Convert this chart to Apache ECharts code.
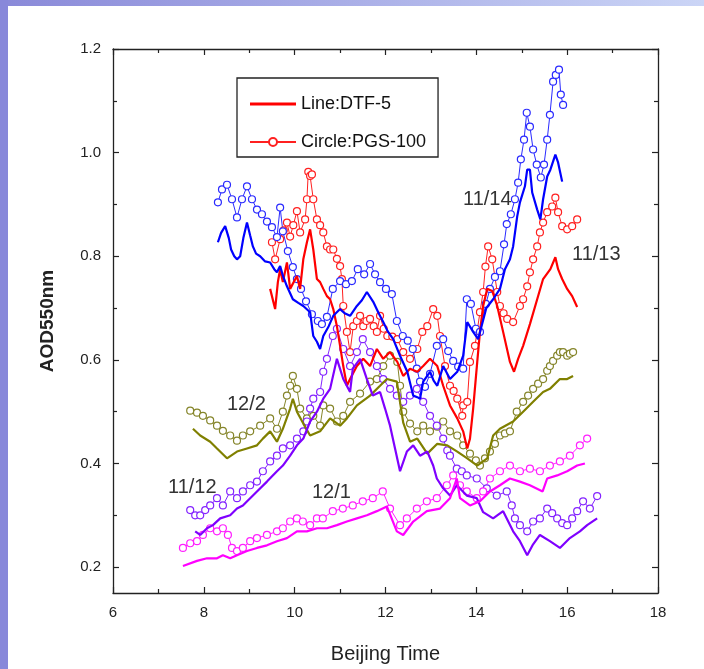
<!DOCTYPE html>
<html>
<head>
<meta charset="utf-8">
<script src="https://cdn.jsdelivr.net/npm/echarts@6/dist/echarts.min.js"></script>
<style>
  html, body { margin: 0; padding: 0; background: #fff; }
  #main { width: 704px; height: 669px; }
</style>
</head>
<body>
<div id="main"></div>
<script>
// 坐标轴刻度.
const yLabelValues = [0.2, 0.4, 0.6, 0.8, 1.0, 1.2]
const yMinorValues = [0.3, 0.5, 0.7, 0.9, 1.1]

// 11/14 (blue)
const pgs1114 = [[8.31,0.904],[8.40,0.929],[8.51,0.938],[8.62,0.910],[8.73,0.875],[8.84,0.910],[8.95,0.935],[9.06,0.910],[9.17,0.890],[9.28,0.881],[9.39,0.867],[9.50,0.856],[9.61,0.837],[9.68,0.894],[9.74,0.848],[9.85,0.810],[9.96,0.779],[10.05,0.756],[10.14,0.737],[10.25,0.713],[10.38,0.688],[10.51,0.675],[10.60,0.669],[10.71,0.683],[10.84,0.737],[11.00,0.752],[11.13,0.746],[11.26,0.752],[11.39,0.775],[11.53,0.765],[11.66,0.785],[11.77,0.765],[11.88,0.750],[12.01,0.737],[12.14,0.727],[12.25,0.675],[12.38,0.646],[12.49,0.637],[12.60,0.621],[12.69,0.583],[12.76,0.558],[12.87,0.548],[12.98,0.573],[13.13,0.627],[13.27,0.640],[13.38,0.617],[13.49,0.598],[13.60,0.587],[13.71,0.583],[13.79,0.717],[13.88,0.708],[13.99,0.660],[14.08,0.654],[14.21,0.708],[14.30,0.737],[14.41,0.760],[14.52,0.771],[14.61,0.823],[14.67,0.862],[14.76,0.881],[14.85,0.910],[14.92,0.942],[14.98,0.987],[15.05,1.025],[15.11,1.077],[15.18,1.050],[15.25,1.006],[15.33,0.977],[15.42,0.952],[15.49,0.977],[15.56,1.025],[15.62,1.073],[15.69,1.137],[15.75,1.150],[15.82,1.160],[15.86,1.112],[15.91,1.092]]
const dtf1114 = [[8.31,0.827],[8.38,0.845],[8.47,0.858],[8.55,0.835],[8.60,0.813],[8.67,0.800],[8.73,0.794],[8.80,0.800],[8.87,0.835],[8.95,0.865],[9.02,0.840],[9.08,0.819],[9.15,0.805],[9.24,0.800],[9.35,0.790],[9.46,0.788],[9.55,0.775],[9.61,0.769],[9.68,0.781],[9.75,0.760],[9.83,0.742],[9.96,0.717],[10.08,0.710],[10.19,0.704],[10.34,0.692],[10.41,0.646],[10.49,0.635],[10.56,0.621],[10.63,0.646],[10.75,0.665],[10.85,0.685],[11.00,0.698],[11.10,0.690],[11.22,0.685],[11.37,0.704],[11.48,0.715],[11.59,0.731],[11.73,0.712],[11.85,0.690],[11.95,0.673],[12.05,0.655],[12.17,0.640],[12.32,0.608],[12.48,0.577],[12.61,0.531],[12.70,0.528],[12.76,0.525],[12.83,0.558],[12.98,0.577],[13.06,0.560],[13.14,0.550],[13.27,0.588],[13.42,0.563],[13.58,0.577],[13.71,0.608],[13.80,0.673],[13.93,0.654],[14.04,0.640],[14.08,0.640],[14.22,0.700],[14.37,0.717],[14.52,0.737],[14.63,0.775],[14.74,0.794],[14.81,0.819],[14.90,0.877],[14.96,0.904],[15.07,0.935],[15.12,0.967],[15.18,0.967],[15.23,0.923],[15.34,0.890],[15.41,0.871],[15.47,0.910],[15.56,0.954],[15.63,0.967],[15.74,0.996],[15.80,0.981],[15.89,0.944]]

// 11/13 (red)
const pgs1113 = [[9.50,0.827],[9.57,0.794],[9.68,0.833],[9.76,0.850],[9.83,0.865],[9.90,0.838],[9.97,0.860],[10.05,0.887],[10.12,0.846],[10.23,0.871],[10.27,0.910],[10.30,0.963],[10.34,0.955],[10.38,0.958],[10.41,0.910],[10.49,0.871],[10.56,0.860],[10.63,0.846],[10.71,0.819],[10.78,0.813],[10.85,0.813],[10.93,0.795],[11.00,0.781],[11.04,0.756],[11.07,0.704],[11.15,0.654],[11.22,0.615],[11.29,0.665],[11.37,0.675],[11.44,0.685],[11.51,0.665],[11.58,0.675],[11.66,0.679],[11.74,0.665],[11.81,0.654],[11.88,0.685],[11.96,0.660],[12.04,0.646],[12.15,0.645],[12.26,0.640],[12.39,0.615],[12.54,0.602],[12.70,0.621],[12.81,0.654],[12.92,0.665],[13.05,0.698],[13.14,0.685],[13.20,0.646],[13.31,0.588],[13.42,0.550],[13.50,0.540],[13.58,0.525],[13.69,0.492],[13.71,0.512],[13.80,0.519],[13.86,0.596],[13.97,0.627],[14.08,0.692],[14.15,0.731],[14.20,0.780],[14.26,0.819],[14.35,0.794],[14.46,0.731],[14.52,0.704],[14.60,0.690],[14.68,0.679],[14.81,0.673],[14.96,0.704],[15.03,0.717],[15.12,0.742],[15.18,0.769],[15.25,0.794],[15.34,0.819],[15.40,0.846],[15.47,0.865],[15.56,0.885],[15.67,0.896],[15.74,0.913],[15.80,0.885],[15.89,0.858],[16.00,0.852],[16.11,0.858],[16.22,0.871]]
const dtf1113 = [[9.46,0.737],[9.57,0.698],[9.63,0.750],[9.68,0.775],[9.74,0.750],[9.83,0.788],[9.90,0.737],[10.05,0.762],[10.12,0.737],[10.19,0.794],[10.27,0.827],[10.34,0.852],[10.41,0.813],[10.49,0.756],[10.56,0.750],[10.63,0.737],[10.71,0.723],[10.78,0.717],[10.85,0.698],[10.93,0.665],[11.00,0.627],[11.07,0.588],[11.15,0.550],[11.22,0.563],[11.37,0.588],[11.51,0.602],[11.66,0.588],[11.81,0.621],[11.95,0.602],[12.10,0.615],[12.26,0.596],[12.39,0.569],[12.54,0.583],[12.70,0.577],[12.83,0.588],[12.98,0.602],[13.14,0.588],[13.27,0.550],[13.42,0.512],[13.58,0.487],[13.71,0.462],[13.80,0.429],[13.86,0.448],[13.93,0.506],[14.02,0.596],[14.08,0.654],[14.15,0.704],[14.24,0.737],[14.35,0.733],[14.46,0.704],[14.59,0.654],[14.74,0.596],[14.83,0.577],[14.92,0.602],[15.03,0.627],[15.18,0.669],[15.34,0.717],[15.47,0.756],[15.63,0.775],[15.74,0.798],[15.80,0.775],[15.89,0.756],[16.00,0.737],[16.11,0.723],[16.22,0.702]]

// 12/2 (olive)
const pgs1202 = [[7.70,0.502],[7.85,0.498],[7.98,0.492],[8.14,0.483],[8.29,0.473],[8.42,0.463],[8.58,0.454],[8.73,0.444],[8.86,0.454],[9.02,0.462],[9.24,0.473],[9.46,0.487],[9.61,0.467],[9.74,0.500],[9.83,0.531],[9.90,0.550],[9.96,0.569],[10.05,0.544],[10.12,0.506],[10.27,0.487],[10.41,0.492],[10.56,0.473],[10.63,0.512],[10.78,0.506],[10.93,0.481],[11.07,0.492],[11.22,0.519],[11.44,0.535],[11.66,0.558],[11.81,0.563],[11.95,0.588],[12.10,0.608],[12.26,0.596],[12.32,0.550],[12.39,0.500],[12.54,0.477],[12.70,0.462],[12.83,0.473],[12.98,0.462],[13.14,0.471],[13.27,0.481],[13.42,0.462],[13.58,0.454],[13.71,0.435],[13.86,0.419],[13.99,0.406],[14.08,0.396],[14.19,0.410],[14.30,0.423],[14.41,0.438],[14.52,0.454],[14.63,0.458],[14.74,0.462],[14.89,0.500],[15.03,0.519],[15.14,0.531],[15.25,0.544],[15.36,0.554],[15.47,0.563],[15.56,0.579],[15.62,0.588],[15.69,0.598],[15.78,0.608],[15.84,0.615],[15.91,0.615],[16.00,0.608],[16.06,0.612],[16.13,0.615]]
const dtf1202 = [[7.76,0.467],[7.92,0.454],[8.14,0.442],[8.29,0.429],[8.51,0.410],[8.73,0.423],[8.95,0.429],[9.17,0.435],[9.30,0.448],[9.46,0.462],[9.61,0.442],[9.74,0.467],[9.90,0.506],[9.96,0.525],[10.05,0.500],[10.19,0.477],[10.34,0.454],[10.56,0.462],[10.78,0.487],[11.00,0.473],[11.15,0.487],[11.37,0.512],[11.66,0.531],[11.88,0.550],[12.03,0.563],[12.25,0.558],[12.39,0.479],[12.54,0.442],[12.70,0.448],[12.92,0.419],[13.14,0.438],[13.36,0.435],[13.58,0.423],[13.80,0.410],[14.02,0.396],[14.24,0.410],[14.37,0.454],[14.52,0.467],[14.81,0.481],[15.03,0.500],[15.25,0.519],[15.47,0.538],[15.62,0.544],[15.84,0.563],[16.00,0.563],[16.13,0.569]]

// 11/12 (purple)
const pgs1112 = [[7.70,0.310],[7.81,0.300],[7.92,0.300],[8.03,0.310],[8.14,0.319],[8.29,0.333],[8.42,0.319],[8.58,0.346],[8.73,0.333],[8.86,0.346],[9.02,0.358],[9.17,0.365],[9.30,0.385],[9.46,0.404],[9.61,0.415],[9.74,0.429],[9.90,0.435],[10.05,0.448],[10.19,0.462],[10.27,0.481],[10.34,0.506],[10.41,0.525],[10.56,0.538],[10.63,0.577],[10.71,0.602],[10.84,0.646],[10.93,0.660],[11.07,0.621],[11.22,0.588],[11.37,0.615],[11.50,0.640],[11.66,0.615],[11.81,0.588],[11.95,0.563],[12.10,0.544],[12.25,0.531],[12.39,0.519],[12.54,0.531],[12.69,0.544],[12.83,0.519],[12.98,0.492],[13.13,0.473],[13.27,0.448],[13.36,0.425],[13.42,0.415],[13.57,0.390],[13.68,0.385],[13.79,0.377],[14.01,0.371],[14.23,0.352],[14.45,0.338],[14.67,0.346],[14.78,0.319],[14.85,0.294],[14.96,0.281],[15.12,0.269],[15.25,0.288],[15.40,0.294],[15.56,0.313],[15.67,0.304],[15.78,0.294],[15.89,0.285],[16.00,0.281],[16.11,0.294],[16.22,0.308],[16.35,0.327],[16.50,0.313],[16.66,0.337]]
const dtf1112 = [[7.81,0.269],[7.92,0.262],[8.07,0.275],[8.20,0.281],[8.36,0.294],[8.58,0.300],[8.73,0.313],[8.86,0.319],[9.02,0.333],[9.17,0.346],[9.39,0.365],[9.61,0.385],[9.74,0.396],[9.90,0.415],[10.05,0.435],[10.19,0.448],[10.34,0.481],[10.49,0.500],[10.63,0.525],[10.78,0.544],[10.93,0.602],[11.07,0.563],[11.22,0.538],[11.28,0.583],[11.44,0.602],[11.59,0.563],[11.72,0.531],[11.88,0.538],[11.99,0.506],[12.10,0.473],[12.21,0.429],[12.32,0.385],[12.47,0.423],[12.61,0.435],[12.76,0.415],[12.92,0.423],[13.05,0.396],[13.13,0.371],[13.27,0.352],[13.42,0.338],[13.57,0.358],[13.79,0.338],[14.01,0.333],[14.15,0.306],[14.37,0.294],[14.59,0.308],[14.81,0.269],[14.96,0.250],[15.12,0.223],[15.25,0.244],[15.40,0.262],[15.62,0.250],[15.84,0.237],[16.06,0.256],[16.28,0.269],[16.44,0.281],[16.66,0.294]]

// 12/1 (magenta)
const pgs1201 = [[7.54,0.237],[7.70,0.246],[7.85,0.250],[7.98,0.262],[8.14,0.275],[8.29,0.269],[8.42,0.275],[8.53,0.262],[8.62,0.237],[8.73,0.231],[8.86,0.237],[9.02,0.250],[9.17,0.256],[9.39,0.262],[9.61,0.269],[9.74,0.275],[9.90,0.288],[10.05,0.294],[10.18,0.288],[10.34,0.281],[10.49,0.294],[10.62,0.294],[10.84,0.308],[11.06,0.313],[11.28,0.319],[11.50,0.327],[11.72,0.333],[11.94,0.346],[12.10,0.313],[12.32,0.281],[12.47,0.294],[12.69,0.313],[12.91,0.327],[13.13,0.333],[13.35,0.358],[13.49,0.377],[13.64,0.358],[13.79,0.346],[14.01,0.333],[14.15,0.346],[14.30,0.371],[14.52,0.385],[14.74,0.396],[14.96,0.385],[15.18,0.390],[15.40,0.385],[15.62,0.396],[15.84,0.404],[16.06,0.415],[16.28,0.435],[16.44,0.448]]
const dtf1201 = [[7.54,0.202],[7.85,0.212],[8.07,0.217],[8.29,0.217],[8.42,0.223],[8.58,0.217],[8.73,0.223],[8.95,0.231],[9.17,0.237],[9.39,0.242],[9.61,0.250],[9.83,0.256],[10.05,0.269],[10.27,0.269],[10.49,0.275],[10.71,0.275],[10.93,0.281],[11.15,0.288],[11.37,0.294],[11.59,0.300],[11.81,0.308],[12.03,0.317],[12.25,0.269],[12.39,0.262],[12.61,0.288],[12.91,0.308],[13.20,0.313],[13.42,0.333],[13.57,0.371],[13.64,0.333],[13.86,0.319],[14.08,0.327],[14.30,0.346],[14.52,0.358],[14.74,0.371],[14.96,0.365],[15.18,0.358],[15.46,0.346],[15.56,0.371],[15.78,0.377],[16.00,0.385],[16.22,0.396],[16.39,0.400]]

const FONT = '"Liberation Sans", Arial, sans-serif'

// 每一天: 标注, 颜色, 数据.
const days = [
  { day: '11/13', color: '#ff0000', circle: '#ff2020', pgs: pgs1113, dtf: dtf1113, pos: [572, 244] },
  { day: '11/14', color: '#0000ff', circle: '#2a2aff', pgs: pgs1114, dtf: dtf1114, pos: [463, 189] },
  { day: '12/2', color: '#808000', circle: '#85852a', pgs: pgs1202, dtf: dtf1202, pos: [227, 394] },
  { day: '11/12', color: '#7f00ff', circle: '#8424ff', pgs: pgs1112, dtf: dtf1112, pos: [168, 477] },
  { day: '12/1', color: '#ff00ff', circle: '#ff20ff', pgs: pgs1201, dtf: dtf1201, pos: [312, 482] },
]

const series = []
days.forEach((d, i) => {
  series.push({
    name: i === 0 ? 'Circle:PGS-100' : d.day + ' PGS-100',
    type: 'line',
    data: d.pgs,
    symbol: 'circle',
    symbolSize: 7,
    itemStyle: { color: '#fff', borderColor: d.circle, borderWidth: 1.2 },
    lineStyle: { color: d.circle, width: 1 },
    z: 2,
  })
  series.push({
    name: i === 0 ? 'Line:DTF-5' : d.day + ' DTF-5',
    type: 'line',
    data: d.dtf,
    symbol: 'none',
    itemStyle: { color: d.color },
    lineStyle: { color: d.color, width: 2.2 },
    z: 3,
  })
})

const axisLine = { show: true, lineStyle: { color: '#222', width: 1.3 } }

const option = {
  animation: false,
  backgroundColor: '#fff',
  grid: { left: 113, right: 46, top: 49, bottom: 75 },
  legend: {
    data: [
      // 纯线段图标.
      { name: 'Line:DTF-5', icon: 'path://M0,0 L46,0 L46,3 L0,3 Z' },
      'Circle:PGS-100',
    ],
    orient: 'vertical',
    left: 237,
    top: 78,
    padding: [17, 12, 6, 12],
    itemGap: 20,
    itemWidth: 46,
    itemHeight: 10,
    borderColor: '#222',
    borderWidth: 1.3,
    textStyle: { fontFamily: FONT, fontSize: 18, color: '#111' },
  },
  xAxis: [
    {
      type: 'value', position: 'bottom', min: 6, max: 18, interval: 2,
      name: 'Beijing Time', nameLocation: 'middle', nameGap: 51,
      nameTextStyle: { fontFamily: FONT, fontSize: 20, color: '#222' },
      axisLine,
      axisTick: { inside: true, length: 6, lineStyle: { color: '#222', width: 1.2 } },
      minorTick: { show: true, splitNumber: 2, length: 4, lineStyle: { color: '#222', width: 1.2 } },
      axisLabel: { margin: 12, fontFamily: FONT, fontSize: 15, color: '#222' },
      splitLine: { show: false },
    },
    {
      type: 'value', position: 'top', min: 6, max: 18, interval: 2,
      axisLine,
      axisTick: { inside: true, length: 6, lineStyle: { color: '#222', width: 1.2 } },
      minorTick: { show: true, splitNumber: 2, length: 4, lineStyle: { color: '#222', width: 1.2 } },
      axisLabel: { show: false },
      splitLine: { show: false },
    },
  ],
  yAxis: [
    {
      type: 'value', position: 'left', min: 0.15, max: 1.2,
      name: 'AOD550nm', nameLocation: 'middle', nameGap: 56, nameRotate: 90,
      nameTextStyle: { fontFamily: FONT, fontSize: 19, fontWeight: 'bold', color: '#222' },
      axisLine,
      axisTick: { inside: true, length: 6, customValues: yLabelValues, lineStyle: { color: '#222', width: 1.2 } },
      axisLabel: {
        margin: 12, fontFamily: FONT, fontSize: 15, color: '#222',
        customValues: yLabelValues, formatter: (v) => v.toFixed(1),
      },
      splitLine: { show: false },
    },
    {
      type: 'value', position: 'left', min: 0.15, max: 1.2,
      axisLine: { show: false },
      axisTick: { inside: true, length: 4, customValues: yMinorValues, lineStyle: { color: '#222', width: 1.2 } },
      axisLabel: { show: false },
      splitLine: { show: false },
    },
    {
      type: 'value', position: 'right', min: 0.15, max: 1.2,
      axisLine,
      axisTick: { inside: true, length: 6, customValues: yLabelValues, lineStyle: { color: '#222', width: 1.2 } },
      axisLabel: { show: false },
      splitLine: { show: false },
    },
    {
      type: 'value', position: 'right', min: 0.15, max: 1.2,
      axisLine: { show: false },
      axisTick: { inside: true, length: 4, customValues: yMinorValues, lineStyle: { color: '#222', width: 1.2 } },
      axisLabel: { show: false },
      splitLine: { show: false },
    },
  ],
  graphic: [
    // 幻灯片边框.
    { type: 'rect', left: 0, top: 0, shape: { width: 8, height: 669 }, style: { fill: '#8888da' }, silent: true },
    {
      type: 'rect', left: 8, top: 0, shape: { width: 696, height: 6 }, silent: true,
      style: {
        fill: new echarts.graphic.LinearGradient(0, 0, 1, 0, [
          { offset: 0, color: '#8a8ad9' },
          { offset: 1, color: '#cbd5f6' },
        ]),
      },
    },
    ...days.map((d) => ({
      type: 'text', left: d.pos[0], top: d.pos[1], silent: true,
      style: { text: d.day, fontFamily: FONT, fontSize: 20, fill: '#333' },
    })),
  ],
  series,
}

const chart = echarts.init(document.getElementById('main'))
chart.setOption(option)
</script>
</body>
</html>
